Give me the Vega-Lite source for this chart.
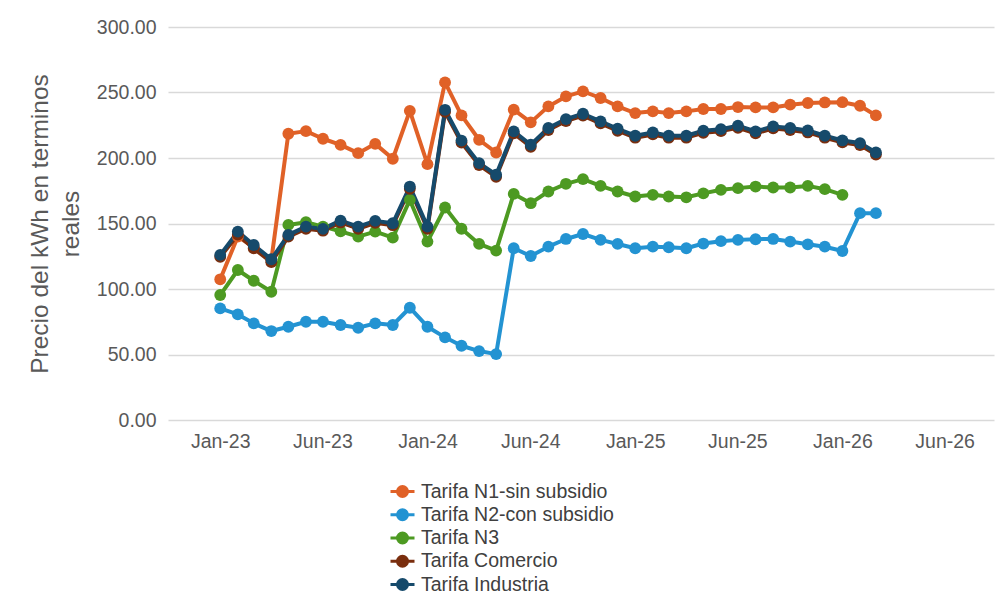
{
  "$schema": "https://vega.github.io/schema/vega-lite/v6.json",
  "width": 826,
  "height": 393,
  "autosize": {"type": "none"},
  "padding": {"left": 168, "top": 27, "right": 11, "bottom": 189},
  "background": "white",
  "config": {"view": {"stroke": null}, "font": "Liberation Sans"},
  "data": {"values": [
    {"fecha":"2023-01-01","serie":"Tarifa N1-sin subsidio","valor":107.4},
    {"fecha":"2023-02-01","serie":"Tarifa N1-sin subsidio","valor":140.0},
    {"fecha":"2023-03-01","serie":"Tarifa N1-sin subsidio","valor":132.0},
    {"fecha":"2023-04-01","serie":"Tarifa N1-sin subsidio","valor":122.0},
    {"fecha":"2023-05-01","serie":"Tarifa N1-sin subsidio","valor":218.5},
    {"fecha":"2023-06-01","serie":"Tarifa N1-sin subsidio","valor":220.5},
    {"fecha":"2023-07-01","serie":"Tarifa N1-sin subsidio","valor":214.7},
    {"fecha":"2023-08-01","serie":"Tarifa N1-sin subsidio","valor":210.0},
    {"fecha":"2023-09-01","serie":"Tarifa N1-sin subsidio","valor":203.7},
    {"fecha":"2023-10-01","serie":"Tarifa N1-sin subsidio","valor":210.8},
    {"fecha":"2023-11-01","serie":"Tarifa N1-sin subsidio","valor":199.4},
    {"fecha":"2023-12-01","serie":"Tarifa N1-sin subsidio","valor":236.0},
    {"fecha":"2024-01-01","serie":"Tarifa N1-sin subsidio","valor":195.3},
    {"fecha":"2024-02-01","serie":"Tarifa N1-sin subsidio","valor":257.7},
    {"fecha":"2024-03-01","serie":"Tarifa N1-sin subsidio","valor":232.5},
    {"fecha":"2024-04-01","serie":"Tarifa N1-sin subsidio","valor":213.9},
    {"fecha":"2024-05-01","serie":"Tarifa N1-sin subsidio","valor":204.2},
    {"fecha":"2024-06-01","serie":"Tarifa N1-sin subsidio","valor":236.9},
    {"fecha":"2024-07-01","serie":"Tarifa N1-sin subsidio","valor":227.2},
    {"fecha":"2024-08-01","serie":"Tarifa N1-sin subsidio","valor":239.4},
    {"fecha":"2024-09-01","serie":"Tarifa N1-sin subsidio","valor":247.0},
    {"fecha":"2024-10-01","serie":"Tarifa N1-sin subsidio","valor":250.9},
    {"fecha":"2024-11-01","serie":"Tarifa N1-sin subsidio","valor":245.8},
    {"fecha":"2024-12-01","serie":"Tarifa N1-sin subsidio","valor":239.4},
    {"fecha":"2025-01-01","serie":"Tarifa N1-sin subsidio","valor":234.3},
    {"fecha":"2025-02-01","serie":"Tarifa N1-sin subsidio","valor":235.6},
    {"fecha":"2025-03-01","serie":"Tarifa N1-sin subsidio","valor":234.3},
    {"fecha":"2025-04-01","serie":"Tarifa N1-sin subsidio","valor":235.6},
    {"fecha":"2025-05-01","serie":"Tarifa N1-sin subsidio","valor":237.4},
    {"fecha":"2025-06-01","serie":"Tarifa N1-sin subsidio","valor":237.4},
    {"fecha":"2025-07-01","serie":"Tarifa N1-sin subsidio","valor":238.9},
    {"fecha":"2025-08-01","serie":"Tarifa N1-sin subsidio","valor":238.6},
    {"fecha":"2025-09-01","serie":"Tarifa N1-sin subsidio","valor":238.6},
    {"fecha":"2025-10-01","serie":"Tarifa N1-sin subsidio","valor":240.7},
    {"fecha":"2025-11-01","serie":"Tarifa N1-sin subsidio","valor":242.0},
    {"fecha":"2025-12-01","serie":"Tarifa N1-sin subsidio","valor":242.4},
    {"fecha":"2026-01-01","serie":"Tarifa N1-sin subsidio","valor":242.6},
    {"fecha":"2026-02-01","serie":"Tarifa N1-sin subsidio","valor":239.9},
    {"fecha":"2026-03-01","serie":"Tarifa N1-sin subsidio","valor":232.5},

    {"fecha":"2023-01-01","serie":"Tarifa N2-con subsidio","valor":85.2},
    {"fecha":"2023-02-01","serie":"Tarifa N2-con subsidio","valor":80.6},
    {"fecha":"2023-03-01","serie":"Tarifa N2-con subsidio","valor":73.8},
    {"fecha":"2023-04-01","serie":"Tarifa N2-con subsidio","valor":67.9},
    {"fecha":"2023-05-01","serie":"Tarifa N2-con subsidio","valor":71.2},
    {"fecha":"2023-06-01","serie":"Tarifa N2-con subsidio","valor":75.0},
    {"fecha":"2023-07-01","serie":"Tarifa N2-con subsidio","valor":75.0},
    {"fecha":"2023-08-01","serie":"Tarifa N2-con subsidio","valor":72.5},
    {"fecha":"2023-09-01","serie":"Tarifa N2-con subsidio","valor":70.4},
    {"fecha":"2023-10-01","serie":"Tarifa N2-con subsidio","valor":73.8},
    {"fecha":"2023-11-01","serie":"Tarifa N2-con subsidio","valor":72.5},
    {"fecha":"2023-12-01","serie":"Tarifa N2-con subsidio","valor":85.7},
    {"fecha":"2024-01-01","serie":"Tarifa N2-con subsidio","valor":71.2},
    {"fecha":"2024-02-01","serie":"Tarifa N2-con subsidio","valor":63.1},
    {"fecha":"2024-03-01","serie":"Tarifa N2-con subsidio","valor":56.7},
    {"fecha":"2024-04-01","serie":"Tarifa N2-con subsidio","valor":52.6},
    {"fecha":"2024-05-01","serie":"Tarifa N2-con subsidio","valor":50.3},
    {"fecha":"2024-06-01","serie":"Tarifa N2-con subsidio","valor":131.1},
    {"fecha":"2024-07-01","serie":"Tarifa N2-con subsidio","valor":125.2},
    {"fecha":"2024-08-01","serie":"Tarifa N2-con subsidio","valor":132.3},
    {"fecha":"2024-09-01","serie":"Tarifa N2-con subsidio","valor":138.2},
    {"fecha":"2024-10-01","serie":"Tarifa N2-con subsidio","valor":142.0},
    {"fecha":"2024-11-01","serie":"Tarifa N2-con subsidio","valor":137.5},
    {"fecha":"2024-12-01","serie":"Tarifa N2-con subsidio","valor":134.4},
    {"fecha":"2025-01-01","serie":"Tarifa N2-con subsidio","valor":131.1},
    {"fecha":"2025-02-01","serie":"Tarifa N2-con subsidio","valor":132.3},
    {"fecha":"2025-03-01","serie":"Tarifa N2-con subsidio","valor":131.9},
    {"fecha":"2025-04-01","serie":"Tarifa N2-con subsidio","valor":131.1},
    {"fecha":"2025-05-01","serie":"Tarifa N2-con subsidio","valor":134.7},
    {"fecha":"2025-06-01","serie":"Tarifa N2-con subsidio","valor":136.5},
    {"fecha":"2025-07-01","serie":"Tarifa N2-con subsidio","valor":137.5},
    {"fecha":"2025-08-01","serie":"Tarifa N2-con subsidio","valor":138.0},
    {"fecha":"2025-09-01","serie":"Tarifa N2-con subsidio","valor":138.2},
    {"fecha":"2025-10-01","serie":"Tarifa N2-con subsidio","valor":136.2},
    {"fecha":"2025-11-01","serie":"Tarifa N2-con subsidio","valor":134.1},
    {"fecha":"2025-12-01","serie":"Tarifa N2-con subsidio","valor":132.3},
    {"fecha":"2026-01-01","serie":"Tarifa N2-con subsidio","valor":129.0},
    {"fecha":"2026-02-01","serie":"Tarifa N2-con subsidio","valor":157.9},
    {"fecha":"2026-03-01","serie":"Tarifa N2-con subsidio","valor":157.9},

    {"fecha":"2023-01-01","serie":"Tarifa N3","valor":95.4},
    {"fecha":"2023-02-01","serie":"Tarifa N3","valor":114.5},
    {"fecha":"2023-03-01","serie":"Tarifa N3","valor":106.3},
    {"fecha":"2023-04-01","serie":"Tarifa N3","valor":97.9},
    {"fecha":"2023-05-01","serie":"Tarifa N3","valor":148.9},
    {"fecha":"2023-06-01","serie":"Tarifa N3","valor":151.0},
    {"fecha":"2023-07-01","serie":"Tarifa N3","valor":147.6},
    {"fecha":"2023-08-01","serie":"Tarifa N3","valor":144.0},
    {"fecha":"2023-09-01","serie":"Tarifa N3","valor":140.0},
    {"fecha":"2023-10-01","serie":"Tarifa N3","valor":143.8},
    {"fecha":"2023-11-01","serie":"Tarifa N3","valor":139.2},
    {"fecha":"2023-12-01","serie":"Tarifa N3","valor":168.0},
    {"fecha":"2024-01-01","serie":"Tarifa N3","valor":136.2},
    {"fecha":"2024-02-01","serie":"Tarifa N3","valor":162.2},
    {"fecha":"2024-03-01","serie":"Tarifa N3","valor":146.0},
    {"fecha":"2024-04-01","serie":"Tarifa N3","valor":134.4},
    {"fecha":"2024-05-01","serie":"Tarifa N3","valor":129.3},
    {"fecha":"2024-06-01","serie":"Tarifa N3","valor":172.6},
    {"fecha":"2024-07-01","serie":"Tarifa N3","valor":165.5},
    {"fecha":"2024-08-01","serie":"Tarifa N3","valor":174.4},
    {"fecha":"2024-09-01","serie":"Tarifa N3","valor":180.3},
    {"fecha":"2024-10-01","serie":"Tarifa N3","valor":183.9},
    {"fecha":"2024-11-01","serie":"Tarifa N3","valor":178.7},
    {"fecha":"2024-12-01","serie":"Tarifa N3","valor":174.4},
    {"fecha":"2025-01-01","serie":"Tarifa N3","valor":170.6},
    {"fecha":"2025-02-01","serie":"Tarifa N3","valor":171.9},
    {"fecha":"2025-03-01","serie":"Tarifa N3","valor":170.6},
    {"fecha":"2025-04-01","serie":"Tarifa N3","valor":170.0},
    {"fecha":"2025-05-01","serie":"Tarifa N3","valor":173.0},
    {"fecha":"2025-06-01","serie":"Tarifa N3","valor":175.7},
    {"fecha":"2025-07-01","serie":"Tarifa N3","valor":177.0},
    {"fecha":"2025-08-01","serie":"Tarifa N3","valor":178.2},
    {"fecha":"2025-09-01","serie":"Tarifa N3","valor":177.5},
    {"fecha":"2025-10-01","serie":"Tarifa N3","valor":177.5},
    {"fecha":"2025-11-01","serie":"Tarifa N3","valor":178.7},
    {"fecha":"2025-12-01","serie":"Tarifa N3","valor":176.2},
    {"fecha":"2026-01-01","serie":"Tarifa N3","valor":171.9},

    {"fecha":"2023-01-01","serie":"Tarifa Comercio","valor":124.5},
    {"fecha":"2023-02-01","serie":"Tarifa Comercio","valor":141.5},
    {"fecha":"2023-03-01","serie":"Tarifa Comercio","valor":131.0},
    {"fecha":"2023-04-01","serie":"Tarifa Comercio","valor":120.5},
    {"fecha":"2023-05-01","serie":"Tarifa Comercio","valor":140.0},
    {"fecha":"2023-06-01","serie":"Tarifa Comercio","valor":146.0},
    {"fecha":"2023-07-01","serie":"Tarifa Comercio","valor":144.5},
    {"fecha":"2023-08-01","serie":"Tarifa Comercio","valor":150.8},
    {"fecha":"2023-09-01","serie":"Tarifa Comercio","valor":146.0},
    {"fecha":"2023-10-01","serie":"Tarifa Comercio","valor":150.5},
    {"fecha":"2023-11-01","serie":"Tarifa Comercio","valor":148.7},
    {"fecha":"2023-12-01","serie":"Tarifa Comercio","valor":176.5},
    {"fecha":"2024-01-01","serie":"Tarifa Comercio","valor":146.0},
    {"fecha":"2024-02-01","serie":"Tarifa Comercio","valor":235.2},
    {"fecha":"2024-03-01","serie":"Tarifa Comercio","valor":211.8},
    {"fecha":"2024-04-01","serie":"Tarifa Comercio","valor":194.6},
    {"fecha":"2024-05-01","serie":"Tarifa Comercio","valor":185.7},
    {"fecha":"2024-06-01","serie":"Tarifa Comercio","valor":218.8},
    {"fecha":"2024-07-01","serie":"Tarifa Comercio","valor":208.6},
    {"fecha":"2024-08-01","serie":"Tarifa Comercio","valor":221.4},
    {"fecha":"2024-09-01","serie":"Tarifa Comercio","valor":228.2},
    {"fecha":"2024-10-01","serie":"Tarifa Comercio","valor":232.3},
    {"fecha":"2024-11-01","serie":"Tarifa Comercio","valor":226.4},
    {"fecha":"2024-12-01","serie":"Tarifa Comercio","valor":220.8},
    {"fecha":"2025-01-01","serie":"Tarifa Comercio","valor":215.5},
    {"fecha":"2025-02-01","serie":"Tarifa Comercio","valor":218.0},
    {"fecha":"2025-03-01","serie":"Tarifa Comercio","valor":215.5},
    {"fecha":"2025-04-01","serie":"Tarifa Comercio","valor":215.5},
    {"fecha":"2025-05-01","serie":"Tarifa Comercio","valor":219.3},
    {"fecha":"2025-06-01","serie":"Tarifa Comercio","valor":220.5},
    {"fecha":"2025-07-01","serie":"Tarifa Comercio","valor":223.1},
    {"fecha":"2025-08-01","serie":"Tarifa Comercio","valor":218.8},
    {"fecha":"2025-09-01","serie":"Tarifa Comercio","valor":222.6},
    {"fecha":"2025-10-01","serie":"Tarifa Comercio","valor":221.4},
    {"fecha":"2025-11-01","serie":"Tarifa Comercio","valor":219.5},
    {"fecha":"2025-12-01","serie":"Tarifa Comercio","valor":215.5},
    {"fecha":"2026-01-01","serie":"Tarifa Comercio","valor":211.9},
    {"fecha":"2026-02-01","serie":"Tarifa Comercio","valor":209.9},
    {"fecha":"2026-03-01","serie":"Tarifa Comercio","valor":202.7},

    {"fecha":"2023-01-01","serie":"Tarifa Industria","valor":126.0},
    {"fecha":"2023-02-01","serie":"Tarifa Industria","valor":143.8},
    {"fecha":"2023-03-01","serie":"Tarifa Industria","valor":133.6},
    {"fecha":"2023-04-01","serie":"Tarifa Industria","valor":122.7},
    {"fecha":"2023-05-01","serie":"Tarifa Industria","valor":141.3},
    {"fecha":"2023-06-01","serie":"Tarifa Industria","valor":147.6},
    {"fecha":"2023-07-01","serie":"Tarifa Industria","valor":145.9},
    {"fecha":"2023-08-01","serie":"Tarifa Industria","valor":152.2},
    {"fecha":"2023-09-01","serie":"Tarifa Industria","valor":147.6},
    {"fecha":"2023-10-01","serie":"Tarifa Industria","valor":152.0},
    {"fecha":"2023-11-01","serie":"Tarifa Industria","valor":150.2},
    {"fecha":"2023-12-01","serie":"Tarifa Industria","valor":178.2},
    {"fecha":"2024-01-01","serie":"Tarifa Industria","valor":147.6},
    {"fecha":"2024-02-01","serie":"Tarifa Industria","valor":236.8},
    {"fecha":"2024-03-01","serie":"Tarifa Industria","valor":213.3},
    {"fecha":"2024-04-01","serie":"Tarifa Industria","valor":196.1},
    {"fecha":"2024-05-01","serie":"Tarifa Industria","valor":187.2},
    {"fecha":"2024-06-01","serie":"Tarifa Industria","valor":220.3},
    {"fecha":"2024-07-01","serie":"Tarifa Industria","valor":210.1},
    {"fecha":"2024-08-01","serie":"Tarifa Industria","valor":222.9},
    {"fecha":"2024-09-01","serie":"Tarifa Industria","valor":229.7},
    {"fecha":"2024-10-01","serie":"Tarifa Industria","valor":233.8},
    {"fecha":"2024-11-01","serie":"Tarifa Industria","valor":227.9},
    {"fecha":"2024-12-01","serie":"Tarifa Industria","valor":222.3},
    {"fecha":"2025-01-01","serie":"Tarifa Industria","valor":217.0},
    {"fecha":"2025-02-01","serie":"Tarifa Industria","valor":219.5},
    {"fecha":"2025-03-01","serie":"Tarifa Industria","valor":217.0},
    {"fecha":"2025-04-01","serie":"Tarifa Industria","valor":217.0},
    {"fecha":"2025-05-01","serie":"Tarifa Industria","valor":220.8},
    {"fecha":"2025-06-01","serie":"Tarifa Industria","valor":222.0},
    {"fecha":"2025-07-01","serie":"Tarifa Industria","valor":224.6},
    {"fecha":"2025-08-01","serie":"Tarifa Industria","valor":220.3},
    {"fecha":"2025-09-01","serie":"Tarifa Industria","valor":224.1},
    {"fecha":"2025-10-01","serie":"Tarifa Industria","valor":222.9},
    {"fecha":"2025-11-01","serie":"Tarifa Industria","valor":221.0},
    {"fecha":"2025-12-01","serie":"Tarifa Industria","valor":217.0},
    {"fecha":"2026-01-01","serie":"Tarifa Industria","valor":213.4},
    {"fecha":"2026-02-01","serie":"Tarifa Industria","valor":211.4},
    {"fecha":"2026-03-01","serie":"Tarifa Industria","valor":204.2}
  ]},
  "encoding": {
    "x": {
      "field": "fecha",
      "type": "temporal",
      "scale": {
        "type": "utc",
        "domain": [
          {"year": 2022, "month": 10, "date": 1, "utc": true},
          {"year": 2026, "month": 9, "date": 25, "utc": true}
        ]
      },
      "axis": {
        "title": null,
        "values": [
          {"year": 2023, "month": 1, "date": 1, "utc": true},
          {"year": 2023, "month": 6, "date": 30, "utc": true},
          {"year": 2024, "month": 1, "date": 1, "utc": true},
          {"year": 2024, "month": 6, "date": 30, "utc": true},
          {"year": 2025, "month": 1, "date": 1, "utc": true},
          {"year": 2025, "month": 6, "date": 30, "utc": true},
          {"year": 2026, "month": 1, "date": 1, "utc": true},
          {"year": 2026, "month": 6, "date": 30, "utc": true}
        ],
        "format": "%b-%y",
        "grid": false,
        "ticks": false,
        "domain": false,
        "labelPadding": 12,
        "labelFontSize": 19.5,
        "labelColor": "#595959",
        "labelFont": "Liberation Sans",
        "labelOverlap": false,
        "labelFlush": false
      }
    },
    "y": {
      "field": "valor",
      "type": "quantitative",
      "scale": {"domain": [0, 300], "nice": false, "zero": true},
      "axis": {
        "values": [0, 50, 100, 150, 200, 250, 300],
        "format": ".2f",
        "grid": true,
        "gridColor": "#D9D9D9",
        "gridWidth": 1.6,
        "ticks": false,
        "domain": false,
        "labelPadding": 12,
        "labelFontSize": 19.5,
        "labelColor": "#595959",
        "labelFont": "Liberation Sans",
        "title": ["Precio del kWh en terminos", "reales"],
        "titleFont": "Liberation Sans",
        "titleFontSize": 24.5,
        "titleFontWeight": "normal",
        "titleColor": "#595959",
        "titleAngle": -90,
        "titleAlign": "center",
        "titleBaseline": "middle",
        "titleLineHeight": 31,
        "titleX": -127.5,
        "titleY": 196.5
      }
    },
    "color": {
      "field": "serie",
      "type": "nominal",
      "sort": ["Tarifa N1-sin subsidio", "Tarifa N2-con subsidio", "Tarifa N3", "Tarifa Comercio", "Tarifa Industria"],
      "scale": {
        "domain": ["Tarifa N1-sin subsidio", "Tarifa N2-con subsidio", "Tarifa N3", "Tarifa Comercio", "Tarifa Industria"],
        "range": ["#E06127", "#2393D2", "#4D9A22", "#7A2E0E", "#164A6B"]
      },
      "legend": {
        "title": null,
        "orient": "none",
        "legendX": 223,
        "legendY": 453,
        "direction": "vertical",
        "padding": 0,
        "symbolType": "M-1.2,0L1.2,0M0.5,0A0.5,0.5 0 1,1 -0.5,0A0.5,0.5 0 1,1 0.5,0Z",
        "symbolSize": 400,
        "symbolStrokeWidth": 3,
        "labelFontSize": 19.5,
        "labelFont": "Liberation Sans",
        "labelColor": "#404040",
        "labelOffset": 7,
        "rowPadding": 0.25,
        "labelLimit": 400,
        "encode": {
          "symbols": {
            "update": {
              "fill": {"scale": "color", "field": "value"},
              "stroke": {"scale": "color", "field": "value"},
              "strokeWidth": {"value": 3},
              "opacity": {"value": 1}
            }
          }
        }
      }
    }
  },
  "layer": [
    {"mark": {"type": "line", "strokeWidth": 4, "strokeJoin": "round"}},
    {"mark": {"type": "point", "filled": true, "size": 140, "opacity": 1, "shape": "circle"}}
  ]
}
